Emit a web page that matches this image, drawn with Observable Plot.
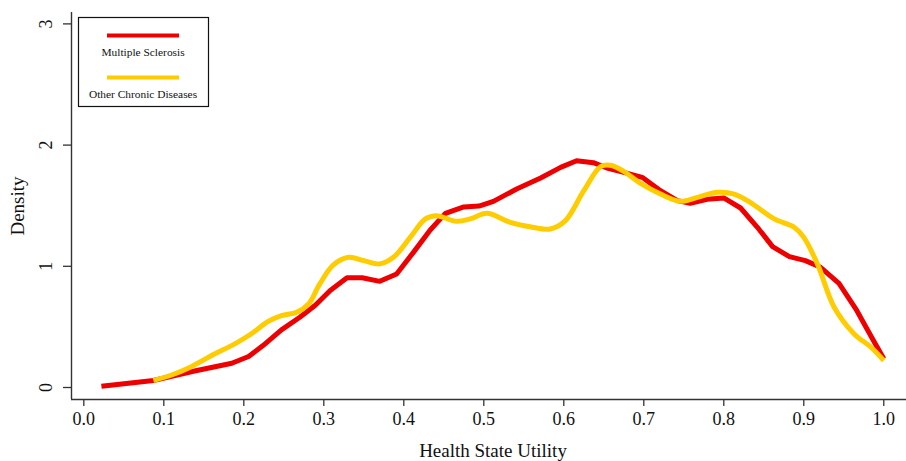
<!DOCTYPE html>
<html>
<head>
<meta charset="utf-8">
<script src="https://cdn.jsdelivr.net/npm/d3@7"></script>
<script src="https://cdn.jsdelivr.net/npm/@observablehq/plot@0.6"></script>
<style>
  html, body { margin: 0; padding: 0; background: #fff; }
  #chart svg { display: block; }
</style>
</head>
<body>
<div id="chart"></div>
<script>
// ---- Data ----
const seriesNames = ["Multiple Sclerosis", "Other Chronic Diseases"];
const seriesColors = ["#ee0000", "#ffcc00"];

const msX = [0.022,0.087,0.137,0.185,0.206,0.224,0.247,0.270,0.289,0.308,0.329,0.348,0.370,0.391,0.412,0.433,0.452,0.475,0.494,0.512,0.541,0.571,0.596,0.616,0.637,0.654,0.675,0.698,0.721,0.742,0.758,0.779,0.800,0.821,0.842,0.861,0.882,0.902,0.921,0.944,0.965,0.986,1.000];
const msY = [0.010,0.058,0.134,0.200,0.256,0.346,0.475,0.580,0.676,0.800,0.905,0.905,0.876,0.937,1.115,1.300,1.437,1.490,1.497,1.536,1.638,1.729,1.816,1.871,1.855,1.811,1.775,1.734,1.624,1.542,1.520,1.553,1.564,1.481,1.322,1.162,1.080,1.047,0.992,0.860,0.649,0.400,0.237];

const ocX = [0.087,0.108,0.133,0.162,0.187,0.208,0.231,0.247,0.266,0.281,0.295,0.312,0.331,0.350,0.370,0.387,0.408,0.427,0.441,0.466,0.483,0.504,0.533,0.558,0.583,0.602,0.625,0.646,0.658,0.675,0.696,0.721,0.746,0.767,0.792,0.813,0.833,0.863,0.888,0.900,0.917,0.938,0.963,0.984,1.000];
const ocY = [0.058,0.099,0.168,0.272,0.354,0.437,0.547,0.594,0.621,0.690,0.855,1.011,1.074,1.047,1.020,1.074,1.239,1.391,1.418,1.371,1.391,1.437,1.363,1.327,1.308,1.377,1.624,1.822,1.833,1.783,1.684,1.596,1.536,1.569,1.610,1.596,1.528,1.391,1.322,1.239,1.020,0.662,0.442,0.332,0.223];

const xTicks = [0,0.1,0.2,0.3,0.4,0.5,0.6,0.7,0.8,0.9,1.0];
const yTicks = [0,1,2,3];
const xTitle = "Health State Utility";
const yTitle = "Density";

// ---- Build ----
const ms = msX.map((x, i) => ({x, y: msY[i]}));
const oc = ocX.map((x, i) => ({x, y: ocY[i]}));

const xDomain = [-0.0154, 1.0284];
const yDomain = [-0.099, 3.094];
const font = "'Liberation Serif', 'Times New Roman', serif";
const axisColor = "#333";

const chart = Plot.plot({
  width: 906,
  height: 461,
  marginLeft: 71,
  marginRight: 0,
  marginTop: 12,
  marginBottom: 62,
  style: {fontFamily: font, background: "#fff", color: "#111"},
  x: {domain: xDomain},
  y: {domain: yDomain},
  marks: [
    Plot.line(ms, {x: "x", y: "y", stroke: seriesColors[0], strokeWidth: 5, strokeLinejoin: "round", strokeLinecap: "butt"}),
    Plot.line(oc, {x: "x", y: "y", stroke: seriesColors[1], strokeWidth: 5, curve: "catmull-rom", strokeLinejoin: "round", strokeLinecap: "butt"}),
    Plot.ruleY([yDomain[0]], {stroke: axisColor, strokeWidth: 1.4}),
    Plot.ruleX([xDomain[0]], {stroke: axisColor, strokeWidth: 1.4}),
    Plot.axisX(xTicks, {tickSize: 7, tickPadding: 6, tickFormat: d3.format(".1f"), fontSize: 18, stroke: axisColor, strokeWidth: 1.3, label: null}),
    Plot.axisY(yTicks, {tickSize: 8, tickFormat: () => "", stroke: axisColor, strokeWidth: 1.3, label: null}),
    Plot.text(yTicks, {x: xDomain[0], y: d => d, text: d => String(d), rotate: -90, dx: -25, fontSize: 18, textAnchor: "middle", lineAnchor: "middle", fill: "#111"}),
    Plot.text([yTitle], {frameAnchor: "left", dx: -54, rotate: -90, fontSize: 19, textAnchor: "middle", lineAnchor: "middle", fill: "#111"}),
    Plot.text([xTitle], {frameAnchor: "bottom", dx: 4, dy: 57, fontSize: 19, textAnchor: "middle", lineAnchor: "bottom", fill: "#111"})
  ]
});

// Legend drawn inside the plot area (top-left box)
const svg = d3.select(chart);
const lg = svg.append("g").attr("font-family", font).attr("font-size", 11.4).attr("fill", "#111");
lg.append("rect").attr("x", 78.5).attr("y", 17.5).attr("width", 130).attr("height", 89)
  .attr("fill", "#fff").attr("stroke", "#111").attr("stroke-width", 1.2);
seriesNames.forEach((name, i) => {
  const lineY = 35.5 + i * 42;
  lg.append("line").attr("x1", 107).attr("x2", 179).attr("y1", lineY).attr("y2", lineY)
    .attr("stroke", seriesColors[i]).attr("stroke-width", 4);
  lg.append("text").attr("x", 143).attr("y", lineY + 17).attr("dy", "0.32em")
    .attr("text-anchor", "middle").text(name);
});

document.getElementById("chart").appendChild(chart);
</script>
</body>
</html>
